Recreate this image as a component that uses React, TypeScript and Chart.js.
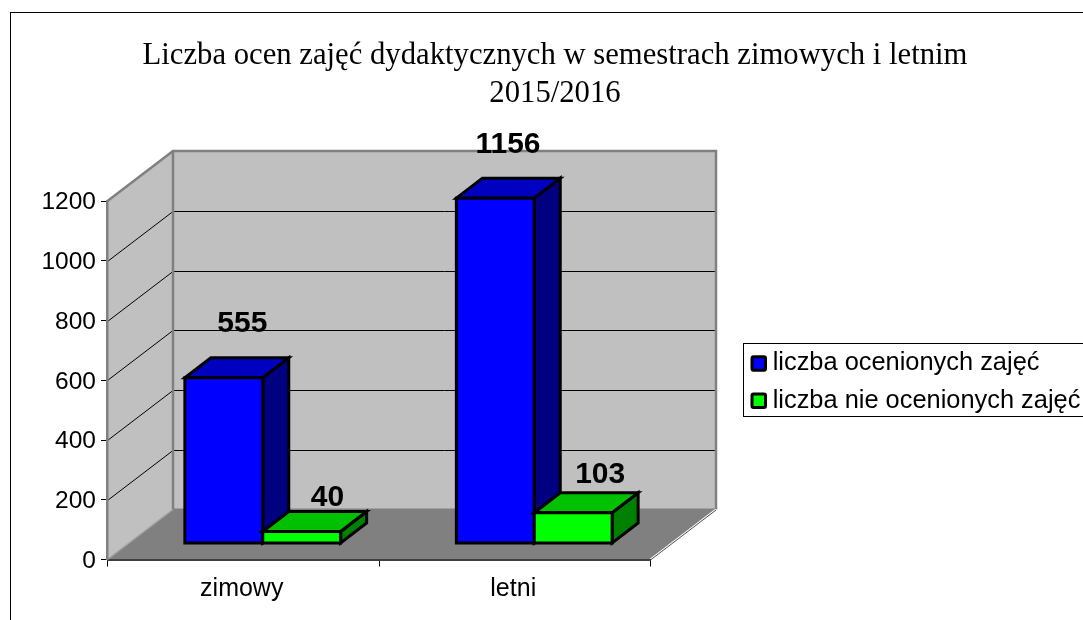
import React, { useEffect, useRef } from "react";
import { Chart, registerables } from "chart.js";

Chart.register(...registerables);

const titleLines = ["Liczba ocen zajęć dydaktycznych w semestrach zimowych i letnim", "2015/2016"];
const categories = ["zimowy", "letni"];
const ratedName = "liczba ocenionych zajęć";
const ratedValues = [555, 1156];
const unratedName = "liczba nie ocenionych zajęć";
const unratedValues = [40, 103];

const SANS = '"Liberation Sans", Arial, sans-serif';
const SERIF = '"Liberation Serif", "Times New Roman", serif';

// 3D look
const WALL_DX = 65.5;
const WALL_DY = 50;
const BAR_SHIFT_X = 19.5;
const BAR_SHIFT_Y = 16;
const BAR_DX = 26;
const BAR_DY = 20;
const BAR_LINE = 3;
const SHADES = [
  { top: "#0000C0", side: "#000080" },
  { top: "#00C000", side: "#008000" },
];
// nudges of the value labels from the bar's top centre
const LABEL_NUDGE = [
  [[18.5, -54.3], [12.7, -53.3]],
  [[25.8, -33.6], [27, -38]],
];

function poly(ctx: CanvasRenderingContext2D, pts: number[][], fill?: string, stroke?: string, lw = 1) {
  ctx.beginPath();
  pts.forEach((p, i) => (i ? ctx.lineTo(p[0], p[1]) : ctx.moveTo(p[0], p[1])));
  if (fill) {
    ctx.closePath();
    ctx.fillStyle = fill;
    ctx.fill();
  }
  if (stroke) {
    ctx.strokeStyle = stroke;
    ctx.lineWidth = lw;
    ctx.stroke();
  }
}

const scene3d = {
  id: "scene3d",
  beforeDraw(chart: any) {
    const { ctx } = chart;
    const xs = chart.scales.x;
    const ys = chart.scales.y;
    const L = xs.left;
    const R = xs.right;
    const B = ys.getPixelForValue(0);
    const T = ys.getPixelForValue(1200);
    const dx = WALL_DX;
    const dy = WALL_DY;
    ctx.save();
    // outer frame
    ctx.strokeStyle = "#000";
    ctx.lineWidth = 1;
    ctx.strokeRect(10.5, 12.5, 1200, 800);
    // walls and floor
    poly(ctx, [[L + dx, T - dy], [R + dx, T - dy], [R + dx, B - dy], [L + dx, B - dy]], "#C0C0C0");
    poly(ctx, [[L, T], [L + dx, T - dy], [L + dx, B - dy], [L, B]], "#C0C0C0");
    poly(ctx, [[L, B], [R, B], [R + dx, B - dy], [L + dx, B - dy]], "#808080");
    // grid lines
    ys.ticks.forEach((t: any) => {
      if (t.value === 0 || t.value === 1200) return;
      const y = Math.round(ys.getPixelForValue(t.value)) + 0.5;
      poly(ctx, [[L, y], [L + dx, y - dy], [R + dx, y - dy]], undefined, "#000", 1);
    });
    // wall edges
    poly(ctx, [[L, T], [L + dx, T - dy], [R + dx, T - dy], [R + dx, B - dy]], undefined, "#808080", 2.5);
    poly(ctx, [[L + dx, T - dy], [L + dx, B - dy]], undefined, "#808080", 2.5);
    poly(ctx, [[L + dx, B - dy], [R + dx, B - dy]], undefined, "#808080", 2);
    poly(ctx, [[L, B], [L + dx, B - dy]], undefined, "#A0A0A0", 1.5);
    poly(ctx, [[R, B], [R + dx, B - dy]], undefined, "#FFFFFF", 2);
    poly(ctx, [[R, B + 0.5], [R + dx, B - dy + 0.5]], undefined, "#000", 0.7);
    ctx.restore();
  },
  beforeDatasetDraw() {
    return false;
  },
  afterDatasetsDraw(chart: any) {
    const { ctx } = chart;
    ctx.save();
    ctx.translate(BAR_SHIFT_X, -BAR_SHIFT_Y);
    ctx.lineJoin = "miter";
    chart.data.datasets.forEach((ds: any, di: number) => {
      chart.getDatasetMeta(di).data.forEach((el: any) => {
        const { x, y, base, width } = el.getProps(["x", "y", "base", "width"], true);
        const l = x - width / 2;
        const r = x + width / 2;
        poly(ctx, [[r, y], [r + BAR_DX, y - BAR_DY], [r + BAR_DX, base - BAR_DY], [r, base]], SHADES[di].side, "#000", BAR_LINE);
        poly(ctx, [[l, y], [l + BAR_DX, y - BAR_DY], [r + BAR_DX, y - BAR_DY], [r, y]], SHADES[di].top, "#000", BAR_LINE);
        el.draw(ctx);
        ctx.strokeStyle = "#000";
        ctx.lineWidth = BAR_LINE;
        ctx.strokeRect(l, y, width, base - y);
      });
    });
    ctx.fillStyle = "#000";
    ctx.font = `bold 30px ${SANS}`;
    ctx.textAlign = "center";
    ctx.textBaseline = "middle";
    chart.data.datasets.forEach((ds: any, di: number) => {
      chart.getDatasetMeta(di).data.forEach((el: any, i: number) => {
        const n = LABEL_NUDGE[di][i];
        ctx.fillText(String(ds.data[i]), el.x + n[0], el.y + n[1]);
      });
    });
    ctx.restore();
  },
  afterDraw(chart: any) {
    const { ctx, legend } = chart;
    const hits = legend.legendHitBoxes;
    if (!hits || !hits.length) return;
    ctx.save();
    // legend frame
    const first = hits[0];
    const last = hits[hits.length - 1];
    const top = Math.round(first.top - 2.5) - 0.5;
    const bottom = Math.round(last.top + last.height - 0.7) - 0.5;
    ctx.strokeStyle = "#000";
    ctx.lineWidth = 1;
    ctx.strokeRect(743.5, top, 500, bottom - top);
    // legend swatches
    legend.legendItems.forEach((item: any, i: number) => {
      const h = hits[i];
      const cy = h.top + h.height / 2;
      ctx.fillStyle = item.swatch;
      ctx.strokeStyle = "#000";
      ctx.lineWidth = 3;
      ctx.beginPath();
      ctx.roundRect(752, cy - 6.5, 13.5, 13.5, 1.5);
      ctx.fill();
      ctx.stroke();
    });
    ctx.restore();
  },
};

export default function App() {
  const ref = useRef<HTMLCanvasElement>(null);
  useEffect(() => {
    const chart = new Chart(ref.current!, {
      type: "bar",
      data: {
        labels: categories,
        datasets: [
          { label: ratedName, data: ratedValues, backgroundColor: "#0000FF", borderWidth: 0, yAxisID: "y" },
          { label: unratedName, data: unratedValues, backgroundColor: "#00FF00", borderWidth: 0, yAxisID: "y" },
        ],
      },
      options: {
        responsive: false,
        animation: false,
        layout: { padding: { left: 27, right: 0, top: 0, bottom: 0 } },
        datasets: { bar: { categoryPercentage: 0.5737, barPercentage: 1, clip: false } as any },
        scales: {
          x: {
            grid: { offset: true, drawOnChartArea: false, color: "#000", tickLength: 7 },
            border: { color: "#404040", width: 2 },
            ticks: { color: "#000", font: { family: SANS, size: 25 }, padding: 8, maxRotation: 0, labelOffset: -1.5 },
            afterFit(s: any) { s.height = 60.5; },
          },
          y: {
            min: 0,
            max: 1200,
            ticks: { stepSize: 200, color: "#000", font: { family: SANS, size: 24.5 }, padding: 5, labelOffset: 1.5, format: { useGrouping: false } },
            grid: { drawOnChartArea: false, color: "#000", tickLength: 6.5 },
            border: { color: "#808080", width: 2.5 },
            afterFit(s: any) { s.width = 80.5; },
          },
          y2: {
            position: "right",
            grid: { display: false },
            border: { display: false },
            ticks: { display: false },
            afterFit(s: any) { s.width = 91.5; },
          },
        },
        plugins: {
          tooltip: { enabled: false },
          title: {
            display: true,
            text: titleLines,
            color: "#000",
            font: { family: SERIF, size: 30.7, weight: "normal", lineHeight: 1.23 },
            padding: { top: 37, bottom: 88.5 },
          },
          legend: {
            position: "right",
            fullSize: false,
            maxWidth: 341,
            title: { display: true, text: "", font: { size: 1 }, padding: 1.1 },
            labels: {
              color: "#000",
              font: { family: SANS, size: 25.4 },
              boxWidth: 15,
              boxHeight: 34.3,
              padding: 3,
              generateLabels(c: any) {
                return Chart.defaults.plugins.legend.labels.generateLabels(c).map((l: any) => ({
                  ...l,
                  swatch: l.fillStyle,
                  fillStyle: "rgba(0,0,0,0)",
                  strokeStyle: "rgba(0,0,0,0)",
                  lineWidth: 0,
                }));
              },
            },
          },
        },
      },
      plugins: [scene3d],
    } as any);
    return () => chart.destroy();
  }, []);
  return (
    <div style={{ position: "fixed", left: 0, top: 0, width: 1083, height: 620, background: "#fff" }}>
      <canvas ref={ref} width={1083} height={620} style={{ display: "block" }} />
    </div>
  );
}
